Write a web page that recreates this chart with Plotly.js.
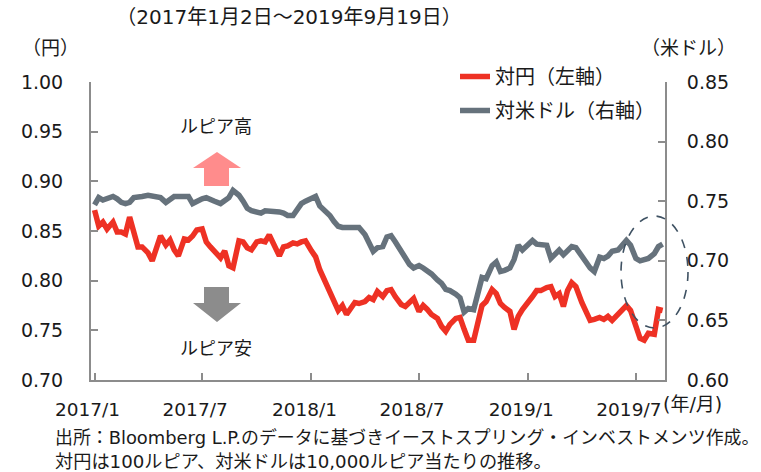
<!DOCTYPE html>
<html>
<head>
<meta charset="utf-8">
<script src="https://cdn.plot.ly/plotly-3.0.1.min.js"></script>
<style>html,body{margin:0;padding:0;background:#fff;}#chart{width:761px;height:472px;}</style>
</head>
<body>
<div id="chart"></div>
<script>
// ---- data ----
const months = ['2017-01','2017-02','2017-03','2017-04','2017-05','2017-06','2017-07','2017-08','2017-09','2017-10','2017-11','2017-12',
  '2018-01','2018-02','2018-03','2018-04','2018-05','2018-06','2018-07','2018-08','2018-09','2018-10','2018-11','2018-12',
  '2019-01','2019-02','2019-03','2019-04','2019-05','2019-06','2019-07','2019-08'];
const sampleDays = ['01','08','15','22'];
const seriesNames = ['対円（左軸）', '対米ドル（右軸）'];

// IDR/JPY (per 100 rupiah), left axis
const idrJpy = [
  0.871,0.855,0.859,0.852, 0.859,0.849,0.849,0.847, 0.864,0.846,0.834,0.834, 0.828,0.820,0.832,0.845,
  0.836,0.841,0.831,0.825, 0.842,0.841,0.845,0.851, 0.852,0.839,0.834,0.829, 0.823,0.830,0.815,0.813,
  0.840,0.839,0.833,0.831, 0.839,0.840,0.839,0.846, 0.833,0.825,0.834,0.835, 0.838,0.837,0.839,0.840,
  0.830,0.824,0.811,0.802, 0.788,0.781,0.770,0.775, 0.766,0.772,0.778,0.777, 0.779,0.783,0.781,0.789,
  0.784,0.790,0.791,0.784, 0.776,0.774,0.778,0.782, 0.769,0.775,0.771,0.766, 0.762,0.754,0.749,0.756,
  0.762,0.763,0.751,0.740, 0.740,0.760,0.775,0.779, 0.791,0.787,0.777,0.773, 0.769,0.751,0.764,0.771,
  0.778,0.784,0.790,0.790, 0.793,0.794,0.784,0.787, 0.774,0.790,0.798,0.794, 0.778,0.768,0.760,0.761,
  0.763,0.761,0.764,0.760, 0.767,0.771,0.775,0.770, 0.755,0.742,0.740,0.747, 0.746,0.771,0.770
];
// IDR/USD (per 10,000 rupiah), right axis
const idrUsd = [
  0.747,0.753,0.751,0.752, 0.754,0.752,0.749,0.748, 0.749,0.753,0.754,0.754, 0.755,0.754,0.754,0.753,
  0.749,0.752,0.754,0.754, 0.754,0.754,0.748,0.750, 0.752,0.753,0.751,0.750, 0.748,0.750,0.753,0.759,
  0.755,0.750,0.744,0.742, 0.741,0.740,0.742,0.742, 0.741,0.741,0.740,0.738, 0.738,0.743,0.748,0.750,
  0.753,0.754,0.746,0.743, 0.738,0.733,0.729,0.728, 0.728,0.729,0.728,0.728, 0.722,0.714,0.708,0.711,
  0.712,0.720,0.721,0.716, 0.708,0.702,0.697,0.694, 0.696,0.694,0.692,0.689, 0.684,0.681,0.676,0.675,
  0.672,0.669,0.657,0.660, 0.659,0.675,0.686,0.685, 0.696,0.699,0.691,0.692, 0.694,0.701,0.713,0.709,
  0.713,0.717,0.714,0.714, 0.713,0.702,0.705,0.709, 0.705,0.708,0.712,0.711, 0.705,0.699,0.694,0.691,
  0.703,0.702,0.704,0.708, 0.709,0.713,0.717,0.713, 0.702,0.700,0.701,0.702, 0.706,0.712,0.714
];
const xTickVals = ['2017-01-01','2017-07-01','2018-01-01','2018-07-01','2019-01-01','2019-07-01'];
const xTickText = ['2017/1','2017/7','2018/1','2018/7','2019/1','2019/7'];
const yLeftTicks = [0.70,0.75,0.80,0.85,0.90,0.95,1.00];
const yRightTicks = [0.60,0.65,0.70,0.75,0.80,0.85];

const dates = months.flatMap(m => sampleDays.map(d => m + '-' + d)).slice(0, idrJpy.length);

// ---- layout helpers (pixel -> paper) ----
const L = 91, R = 665, T = 82, B = 380;
const px = v => (v - L) / (R - L);
const py = v => (B - v) / (B - T);
const FONT = 'DejaVu Sans, "Noto Sans CJK JP", sans-serif';
const TXT = '#1a1a1a';
const AX = '#8c8c8c';

const traces = [
  {x: dates, y: idrJpy, name: seriesNames[0], type: 'scatter', mode: 'lines', yaxis: 'y',
   line: {color: '#EE3124', width: 5.5}, legendgroup: 'a'},
  {x: dates, y: idrUsd, name: seriesNames[1], type: 'scatter', mode: 'lines', yaxis: 'y2',
   line: {color: '#66727C', width: 5.5}, legendgroup: 'b'}
];

function path(pts) {
  return 'M ' + pts.map(p => px(p[0]) + ',' + py(p[1])).join(' L ') + ' Z';
}

const layout = {
  width: 761, height: 472,
  margin: {l: L, r: 761 - R, t: T, b: 472 - B},
  paper_bgcolor: '#fff', plot_bgcolor: '#fff',
  font: {family: FONT, color: TXT, size: 19},
  title: {text: '（2017年1月2日～2019年9月19日）', x: 289/761, xref: 'container', xanchor: 'center',
          y: 1 - 17/472, yref: 'container', yanchor: 'middle', font: {family: FONT, size: 20, color: TXT}},
  showlegend: true,
  legend: {x: px(455), y: py(57), xanchor: 'left', yanchor: 'top', bgcolor: 'rgba(0,0,0,0)',
           font: {family: FONT, size: 20, color: TXT}, tracegroupgap: 5, traceorder: 'grouped'},
  xaxis: {type: 'date', range: ['2016-12-26', '2019-08-19'], showgrid: false, zeroline: false,
          showline: true, linecolor: AX, linewidth: 2, mirror: false,
          ticks: 'inside', ticklen: 7, tickwidth: 2, tickcolor: AX,
          tickmode: 'array', tickvals: xTickVals, ticktext: xTickText,
          tickfont: {family: FONT, size: 18.5, color: TXT}, ticklabelstandoff: 12, ticklabelshift: -7},
  yaxis: {range: [0.70, 1.00], showgrid: false, zeroline: false,
          showline: true, linecolor: AX, linewidth: 2,
          ticks: 'inside', ticklen: 7, tickwidth: 2, tickcolor: AX,
          tickmode: 'array', tickvals: yLeftTicks, ticktext: yLeftTicks.map(v => v.toFixed(2)),
          tickfont: {family: FONT, size: 19, color: TXT}, ticklabelstandoff: 22},
  yaxis2: {range: [0.60, 0.85], overlaying: 'y', side: 'right', showgrid: false, zeroline: false,
           showline: true, linecolor: AX, linewidth: 2,
           ticks: 'inside', ticklen: 7, tickwidth: 2, tickcolor: AX,
           tickmode: 'array', tickvals: yRightTicks, ticktext: yRightTicks.map(v => v.toFixed(2)),
           tickfont: {family: FONT, size: 19, color: TXT}, ticklabelstandoff: 16},
  shapes: [
    {type: 'path', xref: 'paper', yref: 'paper', fillcolor: '#FF8C8C', line: {width: 0},
     path: path([[217,152],[241,168],[229,168],[229,186],[204,186],[204,168],[193,168]])},
    {type: 'path', xref: 'paper', yref: 'paper', fillcolor: '#8C8C8C', line: {width: 0},
     path: path([[204,287],[229,287],[229,303],[241,303],[217,322],[193,303],[204,303]])},
    {type: 'circle', xref: 'paper', yref: 'paper', x0: px(621), x1: px(688), y0: py(328), y1: py(216),
     line: {color: '#3F5263', width: 1.6, dash: 'dash'}, layer: 'above'}
  ],
  annotations: [
    {text: '（円）', xref: 'paper', yref: 'paper', x: px(50), y: py(48), xanchor: 'center', yanchor: 'middle', showarrow: false, font: {size: 19}},
    {text: '（米ドル）', xref: 'paper', yref: 'paper', x: px(688), y: py(48), xanchor: 'center', yanchor: 'middle', showarrow: false, font: {size: 19}},
    {text: 'ルピア高', xref: 'paper', yref: 'paper', x: px(216), y: py(127), xanchor: 'center', yanchor: 'middle', showarrow: false, font: {size: 18}},
    {text: 'ルピア安', xref: 'paper', yref: 'paper', x: px(216), y: py(348), xanchor: 'center', yanchor: 'middle', showarrow: false, font: {size: 18}},
    {text: '(年/月)', xref: 'paper', yref: 'paper', x: px(692), y: py(404), xanchor: 'center', yanchor: 'middle', showarrow: false, font: {size: 19}},
    {text: '出所：Bloomberg L.P.のデータに基づきイーストスプリング・インベストメンツ作成。', xref: 'paper', yref: 'paper',
     x: px(53), y: py(437), xanchor: 'left', yanchor: 'middle', showarrow: false, font: {size: 17.9}},
    {text: '対円は100ルピア、対米ドルは10,000ルピア当たりの推移。', xref: 'paper', yref: 'paper',
     x: px(53), y: py(461), xanchor: 'left', yanchor: 'middle', showarrow: false, font: {size: 18.2}}
  ]
};

Plotly.newPlot('chart', traces, layout, {staticPlot: true, displayModeBar: false});
</script>
</body>
</html>
